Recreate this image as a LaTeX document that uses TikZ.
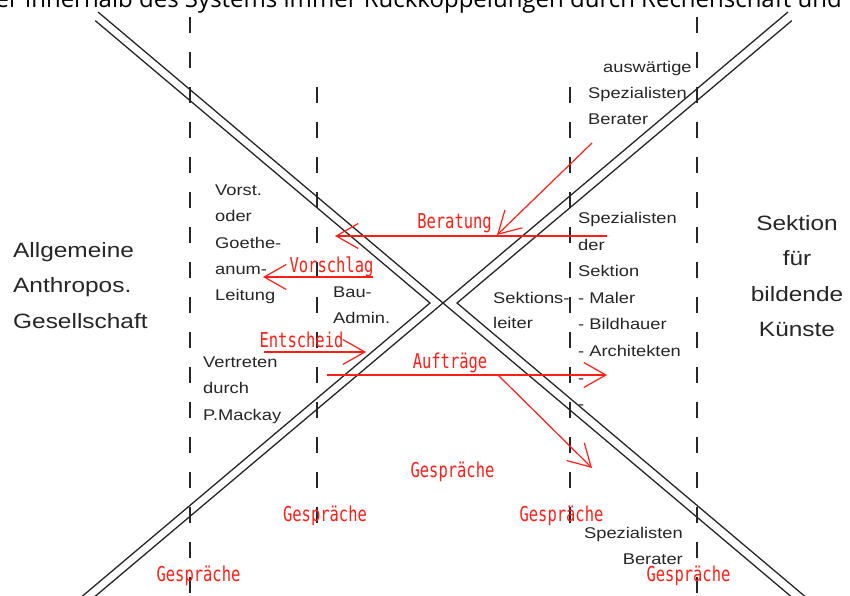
\documentclass[tikz,border=0pt]{standalone}
\usepackage{fontspec}
\setmainfont{Liberation Sans}
\newfontfamily\labf{Liberation Sans}[FakeStretch=1.18]
\newfontfamily\redf{DejaVu Sans Mono}[FakeStretch=0.754]
\newfontfamily\topf{Open Sans}
\usetikzlibrary{arrows.meta}
\definecolor{redc}{RGB}{255,30,22}
\definecolor{ink}{RGB}{38,38,38}
\begin{document}
\begin{tikzpicture}[x=1pt,y=-1pt,
  band/.style={draw=ink, line width=1.3pt},
  divider/.style={draw=ink, line width=1.8pt, dash pattern=on 16pt off 19pt},
  redarrow/.style={draw=redc, line width=1.2pt, -{Straight Barb[length=22pt,width=25pt,line width=1.2pt]}},
  redlabel/.style={text=redc, font=\redf\fontsize{20.5}{20.5}\selectfont, inner sep=0pt, anchor=base},
  smalltxt/.style={text=ink, font=\labf\fontsize{15.5}{15.5}\selectfont, inner sep=0pt, anchor=base west},
  bigtxt/.style={text=ink, font=\labf\fontsize{20.7}{20.7}\selectfont, inner sep=0pt, anchor=base west},
  bigc/.style={bigtxt, anchor=base},
  toptxt/.style={text=black, font=\topf\fontsize{24}{24}\selectfont, inner sep=0pt, anchor=base east}
]
\useasboundingbox (0,0) rectangle (850,596);
\clip (0,0) rectangle (850,596);
\fill[white] (0,0) rectangle (850,596);

% cut-off header text
\node[toptxt] (hdr) at (842,8) {er innerhalb des Systems immer Rückkoppelungen durch Rechenschaft und};

% dashed dividers
\coordinate (d1a) at (190,17);  \coordinate (d1b) at (190,600);
\coordinate (d2a) at (317,87);  \coordinate (d2b) at (317,523);
\coordinate (d3a) at (570,87);  \coordinate (d3b) at (570,523);
\coordinate (d4a) at (697,17);  \coordinate (d4b) at (697,600);
\draw[divider] (d1a) -- (d1b);
\draw[divider] (d2a) -- (d2b);
\draw[divider] (d3a) -- (d3b);
\draw[divider] (d4a) -- (d4b);

% crossing double bands
\coordinate (C) at (443,303);
\coordinate (L) at (430,303);
\coordinate (R) at (457,303);
\coordinate (TLi) at (98,12);
\coordinate (BRi) at (798.4,602.7);
\coordinate (TRi) at (788,12);
\coordinate (BLi) at (87.6,602.7);
\coordinate (TLo) at (95.3,20.7);
\coordinate (BLo) at (74.6,602.7);
\coordinate (TRo) at (791.7,20.7);
\coordinate (BRo) at (812.4,602.7);
\draw[band] (TLi) -- (C) -- (BRi);
\draw[band] (TRi) -- (C) -- (BLi);
\draw[band] (TLo) -- (L) -- (BLo);
\draw[band] (TRo) -- (R) -- (BRo);

% big side labels
\node[bigtxt] (ag1) at (13,257) {Allgemeine};
\node[bigtxt] (ag2) at (13,292.5) {Anthropos.};
\node[bigtxt] (ag3) at (13,328) {Gesellschaft};
\node[bigc] (sk1) at (797,230) {Sektion};
\node[bigc] (sk2) at (797,265.5) {für};
\node[bigc] (sk3) at (797,301) {bildende};
\node[bigc] (sk4) at (797,336.5) {Künste};

% small black labels
\node[smalltxt] (aw1) at (603,73) {auswärtige};
\node[smalltxt] (aw2) at (588,99) {Spezialisten};
\node[smalltxt] (aw3) at (588,125) {Berater};

\node[smalltxt] (vo1) at (215,195.5) {Vorst.};
\node[smalltxt] (vo2) at (215,221.8) {oder};
\node[smalltxt] (vo3) at (215,248.1) {Goethe-};
\node[smalltxt] (vo4) at (215,274.4) {anum-};
\node[smalltxt] (vo5) at (215,300.7) {Leitung};

\node[smalltxt] (ba1) at (333,297) {Bau-};
\node[smalltxt] (ba2) at (333,323) {Admin.};

\node[smalltxt] (ve1) at (203,367) {Vertreten};
\node[smalltxt] (ve2) at (203,393.5) {durch};
\node[smalltxt] (ve3) at (203,420) {P.Mackay};

\node[smalltxt] (sl1) at (493,303) {Sektions-};
\node[smalltxt] (sl2) at (493,328) {leiter};

\node[smalltxt] (sp1) at (578,223.5) {Spezialisten};
\node[smalltxt] (sp2) at (578,250.1) {der};
\node[smalltxt] (sp3) at (578,276.7) {Sektion};
\node[smalltxt] (sp4) at (578,303.3) {- Maler};
\node[smalltxt] (sp5) at (578,329.9) {- Bildhauer};
\node[smalltxt] (sp6) at (578,356.5) {- Architekten};
\node[smalltxt] (sp7) at (578,383.1) {-};
\node[smalltxt] (sp8) at (578,409.7) {-};

\node[smalltxt, anchor=base east] (sb1) at (683,538) {Spezialisten};
\node[smalltxt, anchor=base east] (sb2) at (683,564) {Berater};

% red labels
\node[redlabel] (rBer) at (454.5,228) {Beratung};
\node[redlabel] (rVor) at (331.5,272) {Vorschlag};
\node[redlabel] (rEnt) at (301.5,347) {Entscheid};
\node[redlabel] (rAuf) at (450,368) {Aufträge};
\node[redlabel] (rG1) at (452.5,477) {Gespräche};
\node[redlabel] (rG2) at (325,521) {Gespräche};
\node[redlabel] (rG3) at (561.5,521) {Gespräche};
\node[redlabel] (rG4) at (198.5,581) {Gespräche};
\node[redlabel] (rG5) at (688.5,581) {Gespräche};

% red arrows
\coordinate (berS) at (607,236); \coordinate (berT) at (335,236);
\coordinate (ausS) at (592,143); \coordinate (ausT) at (497,235);
\coordinate (vorS) at (373,277); \coordinate (vorT) at (263,277);
\coordinate (entS) at (264,352); \coordinate (entT) at (366,352);
\coordinate (aufS) at (327,375); \coordinate (aufT) at (607,375);
\coordinate (gspS) at (498,375); \coordinate (gspT) at (592,468);
\draw[redarrow] (berS) -- (berT);
\draw[redarrow] (ausS) -- (ausT);
\draw[redarrow] (vorS) -- (vorT);
\draw[redarrow] (entS) -- (entT);
\draw[redarrow] (aufS) -- (aufT);
\draw[redarrow] (gspS) -- (gspT);
\end{tikzpicture}
\end{document}
